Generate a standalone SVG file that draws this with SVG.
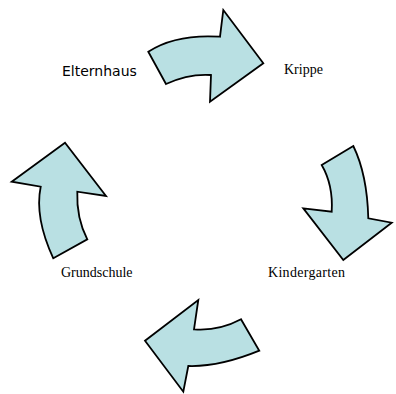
<svg xmlns="http://www.w3.org/2000/svg" width="396" height="394" viewBox="0 0 396 394">
<style>
.arrow{fill:#b9e0e3;stroke:#000;stroke-width:1.8;stroke-linejoin:miter}
.serif{font-family:"Liberation Serif","Times New Roman",serif;font-size:14px;fill:#000}
.comic{font-family:"DejaVu Sans",sans-serif;font-size:14px;fill:#000}
</style>
<rect width="396" height="394" fill="#fff"/>
<g id="connectors">
<path class="arrow" d="M148.3,51.7 Q175.8,33.8 220,36.7 L223.3,10 L263.3,63.3 L210,101.7 L211,75 Q188.5,73.5 166,84 Z"/>
<path class="arrow" d="M321.7,165 L353.3,146 Q367.2,174.5 368.3,218.3 L391.7,222.7 L343.3,260 L303.3,208.3 L331.7,211.7 Q333.3,185 321.7,165 Z"/>
<path class="arrow" d="M241,319.3 L259.3,350.7 Q219.6,367 188.3,366 L183.3,391.7 L145,340.7 L198.3,300 L194,329.3 Q219.1,331.1 241,319.3 Z"/>
<path class="arrow" d="M53.3,258.3 L87.3,239.3 Q76.3,217.9 77.3,191.7 L106,196 L65,142.7 L11.7,181.7 L40.7,186.7 Q34.4,217.5 53.3,258.3 Z"/>
</g>
<g id="elternhaus"><text class="comic" x="62" y="76">Elternhaus</text></g>
<g id="krippe"><text class="serif" x="284" y="74">Krippe</text></g>
<g id="kindergarten"><text class="serif" x="268" y="277" textLength="77">Kindergarten</text></g>
<g id="grundschule"><text class="serif" x="61" y="277">Grundschule</text></g>
</svg>
